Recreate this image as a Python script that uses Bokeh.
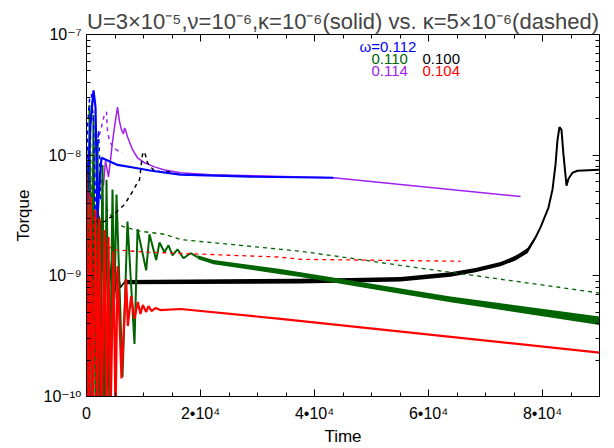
from bokeh.plotting import figure
from bokeh.models import (Range1d, FixedTicker, CustomJSTickFormatter, LinearAxis,
                          LogAxis, Label)
from bokeh.embed import file_html
from bokeh.resources import INLINE

FONT = "Liberation Sans"
TICK_FONT = "'Liberation Sans', 'DejaVu Sans'"
BOTTOM = 6e-11  # excursions below the axis floor

# ---- axis ticks ----
x_ticks = [0, 20000, 40000, 60000, 80000]
x_minor = [5000, 10000, 15000, 25000, 30000, 35000, 45000, 50000, 55000,
           65000, 70000, 75000, 85000]
y_ticks = [1e-10, 1e-9, 1e-8, 1e-7]
y_minor = [m * d for d in (1e-10, 1e-9, 1e-8) for m in range(2, 10)]

# ---- omega = 0.104 (red) ----
red_s_t = [0, 350, 700, 1050, 1580, 1930, 2280, 2630, 3160, 3510, 3860, 4210, 4740, 5090,
           5440, 6140, 6960, 7250, 7840, 8420, 9000, 9470, 9880, 10470, 10880, 11400,
           12100, 12980, 16490, 34040, 90000]
red_s_T = [7.0e-9, BOTTOM, 4.5e-9, BOTTOM, 3.5e-9, BOTTOM, 3.0e-9, BOTTOM, 2.4e-9, BOTTOM,
           2.1e-9, BOTTOM, 1.6e-9, BOTTOM, 1.2e-9, 1.41e-10, 9.4e-10, 3.85e-10, 6.8e-10,
           4.4e-10, 6.07e-10, 4.83e-10, 5.73e-10, 5.02e-10, 5.62e-10, 5.11e-10, 5.41e-10,
           5.2e-10, 5.31e-10, 4.4e-10, 2.31e-10]
red_d_t = [0, 200, 500, 900, 1300, 1700, 2100, 2600, 3100, 3680, 4210, 5090, 10700,
           34040, 37540, 65610]
red_d_T = [3e-9, BOTTOM, 5e-9, BOTTOM, 3.5e-9, BOTTOM, 2.5e-9, BOTTOM, 2e-9, 1.66e-9,
           1.72e-9, 1.64e-9, 1.57e-9, 1.43e-9, 1.37e-9, 1.32e-9]

# ---- omega = 0.110 (green) ----
green_s_t = [0, 350, 530, 880, 1230, 1580, 1930, 2280, 2810, 3160, 3510, 4040, 4560, 4910,
             5260, 6320, 7190, 8420, 8950, 10470, 11050, 12230, 12810, 13680, 14390,
             15090, 15960, 17020, 18250, 19470]
green_s_T = [1.11e-8, BOTTOM, 2.6e-8, BOTTOM, 2.15e-8, BOTTOM, 1.34e-8, BOTTOM, 8.3e-9,
             BOTTOM, 6.26e-9, BOTTOM, 5.18e-9, 6.42e-10, 4.71e-9, 1.45e-10, 2.82e-9,
             2.73e-10, 2.43e-9, 1.11e-9, 2.21e-9, 1.35e-9, 1.89e-9, 1.57e-9, 1.79e-9,
             1.48e-9, 1.66e-9, 1.40e-9, 1.54e-9, 1.43e-9]
green_band_t = [19470, 22280, 34040, 37540, 63860, 90000]
green_band_hi = [1.48e-9, 1.35e-9, 1.14e-9, 1.07e-9, 6.75e-10, 4.6e-10]
green_band_lo = [1.38e-9, 1.25e-9, 1.03e-9, 9.8e-10, 6.05e-10, 3.92e-10]
green_d_t = [0, 350, 700, 1050, 1400, 1750, 2100, 2460, 4210, 5960, 9470, 13680, 16490,
             34040, 37540, 46320, 55090, 63860, 72630, 81400, 90000]
green_d_T = [3e-9, BOTTOM, 2.2e-8, BOTTOM, 1.2e-8, BOTTOM, 6e-9, 4.3e-9, 3.2e-9, 2.6e-9,
             2.34e-9, 2.21e-9, 2.0e-9, 1.66e-9, 1.6e-9, 1.40e-9, 1.22e-9, 1.07e-9,
             9.38e-10, 8.22e-10, 7.2e-10]

# ---- omega = 0.100 (black) ----
black_s_t = [0, 350, 700, 1050, 1400, 1750, 2100, 2460, 2810, 3160, 3510, 3860, 4390,
             4910, 5440, 5960, 6670]
black_s_T = [4e-9, BOTTOM, 5e-9, BOTTOM, 3.5e-9, BOTTOM, 3.2e-9, 2.7e-9, BOTTOM, 1.45e-9,
             2.4e-9, 6.8e-10, 1.3e-9, 7e-10, 1.1e-9, 8e-10, 8.9e-10]
black_band_t = [6670, 37540, 46320, 55090, 63860, 68250, 72630, 75260, 77370, 78770]
black_band_hi = [9.25e-10, 9.45e-10, 9.6e-10, 9.8e-10, 1.07e-9, 1.16e-9, 1.30e-9,
                 1.46e-9, 1.70e-9, 2.14e-9]
black_band_lo = [8.5e-10, 8.65e-10, 8.8e-10, 8.97e-10, 9.85e-10, 1.07e-9, 1.20e-9,
                 1.34e-9, 1.54e-9, 2.02e-9]
black_end_t = [72630, 77370, 78770, 79650, 81050, 81750, 82280, 82630, 82980, 83330,
               83680, 84210, 84560, 85260, 86140, 90000]
black_end_T = [1.25e-9, 1.61e-9, 2.08e-9, 2.52e-9, 3.68e-9, 5.18e-9, 8.3e-9, 1.34e-8,
               1.71e-8, 1.62e-8, 1.01e-8, 5.59e-9, 6.38e-9, 7.15e-9, 7.43e-9, 7.57e-9]
black_d_t = [0, 350, 700, 1050, 1400, 1930, 3160, 4390, 6670, 8070, 8950, 9300, 9820,
             10180, 10700, 11400, 11930, 12980, 15090]
black_d_T = [2e-9, BOTTOM, 3e-9, BOTTOM, 3.22e-9, 2.77e-9, 2.82e-9, 3.1e-9, 3.9e-9,
             4.99e-9, 5.92e-9, 6.26e-9, 1.01e-8, 1.07e-8, 8.65e-9, 7.87e-9, 7.43e-9,
             7.29e-9, 7.29e-9]

# ---- omega = 0.112 (blue) ----
blue_s_t = [0, 350, 700, 1230, 1580, 1750, 1930, 2280, 2630, 5440, 8420, 11400, 16490,
            28770, 43330]
blue_s_T = [3e-9, 8e-9, 1.8e-8, 3.45e-8, 2.5e-8, 9e-9, 3e-9, 6e-9, 9.5e-9, 8.3e-9,
            7.87e-9, 7.43e-9, 6.89e-9, 6.63e-9, 6.5e-9]
blue_d_t = [0, 175, 530, 880, 1230, 1400, 1580, 1750, 2100, 2280, 2460]
blue_d_T = [1.5e-9, 1.71e-8, 2.9e-8, 3.2e-8, 1.9e-8, 6e-9, 2e-9, 8e-9, 1.6e-8, 1e-8, 4e-9]

# ---- omega = 0.114 (purple) ----
purple_s_t = [0, 700, 1750, 2460, 2980, 3330, 3860, 4210, 4560, 4910, 5440, 5790, 6140,
              6490, 6670, 6840, 7190, 8070, 8950, 10180, 11930, 13510, 16490, 21750,
              43330, 76140]
purple_s_T = [2e-9, BOTTOM, 3e-9, 6.3e-9, 5.6e-9, 9e-9, 6.6e-9, 9.15e-9, 1.29e-8, 1.71e-8,
              2.5e-8, 1.9e-8, 1.62e-8, 1.5e-8, 1.68e-8, 1.62e-8, 1.42e-8, 1.11e-8,
              9.5e-9, 8.65e-9, 8.0e-9, 7.57e-9, 7.15e-9, 6.89e-9, 6.5e-9, 4.54e-9]
purple_d_t = [0, 175, 350, 530, 880, 1230, 1930, 2630, 3160, 3510, 3680, 4040, 4740,
              5610, 6320]
purple_d_T = [1.4e-9, BOTTOM, 1.2e-9, BOTTOM, 5e-9, 1.0e-8, 1.3e-8, 1.71e-8, 2.2e-8,
              2.28e-8, 1.6e-8, 1.3e-8, 1.15e-8, 1.08e-8, 1.05e-8]

RED, GREEN, BLACK, BLUE, PURPLE = "#ff0000", "#006400", "#000000", "#0000ff", "#a020f0"
DASH = "4 4"

p = figure(width=614, height=448, x_range=Range1d(0, 90000), y_range=Range1d(1e-10, 1e-7),
           y_axis_type="log", output_backend="svg", toolbar_location=None,
           min_border_left=86, min_border_right=15, min_border_top=34, min_border_bottom=50,
           background_fill_color="white", border_fill_color="white")
p.outline_line_color = None
p.xgrid.visible = False
p.ygrid.visible = False

p.title.text = "U=3×10⁻⁵,ν=10⁻⁶,κ=10⁻⁶(solid) vs. κ=5×10⁻⁶(dashed)"
p.title.align = "center"
p.title.text_font = FONT
p.title.text_font_size = "22px"
p.title.text_font_style = "normal"
p.title.standoff = 2

xfmt = CustomJSTickFormatter(code="""
if (tick == 0) { return '0'; }
return (tick / 1e4).toFixed(0) + '\u2022' + '10\u2074';
""")
yfmt = CustomJSTickFormatter(code="""
const e = Math.round(Math.log10(tick));
const m = {'-':'\u207b','0':'\u2070','1':'\u00b9','2':'\u00b2','3':'\u00b3','4':'\u2074',
           '5':'\u2075','6':'\u2076','7':'\u2077','8':'\u2078','9':'\u2079'};
return '10' + String(e).split('').map(c => m[c]).join('');
""")
blank = CustomJSTickFormatter(code="return '';")


def style_axis(ax, labels=True):
    ax.major_tick_in = 7
    ax.major_tick_out = 0
    ax.minor_tick_in = 4
    ax.minor_tick_out = 0
    ax.axis_line_color = "black"
    ax.major_tick_line_color = "black"
    ax.minor_tick_line_color = "black"
    if labels:
        ax.major_label_text_font = TICK_FONT
        ax.major_label_text_font_size = "16px"
        ax.major_label_text_color = "black"
        ax.major_label_standoff = 8
        ax.axis_label_text_font = FONT
        ax.axis_label_text_font_size = "17px"
        ax.axis_label_text_font_style = "normal"
        ax.axis_label_text_color = "black"
        ax.axis_label_standoff = 2
    else:
        ax.major_label_text_font_size = "0px"
        ax.major_label_standoff = 0


xa = p.xaxis[0]
xa.ticker = FixedTicker(ticks=x_ticks, minor_ticks=x_minor)
xa.formatter = xfmt
xa.axis_label = "Time"
style_axis(xa)

ya = p.yaxis[0]
ya.ticker = FixedTicker(ticks=y_ticks, minor_ticks=y_minor)
ya.formatter = yfmt
ya.axis_label = "Torque"
style_axis(ya)
ya.major_label_standoff = 5
ya.axis_label_standoff = 8

top = LinearAxis(ticker=FixedTicker(ticks=x_ticks, minor_ticks=x_minor), formatter=blank)
style_axis(top, labels=False)
p.add_layout(top, "above")
right = LogAxis(ticker=FixedTicker(ticks=y_ticks, minor_ticks=y_minor), formatter=blank)
style_axis(right, labels=False)
p.add_layout(right, "right")

# ---- curves ----
p.line(purple_d_t, purple_d_T, color=PURPLE, line_width=1.5, line_dash=DASH)
p.line(purple_s_t, purple_s_T, color=PURPLE, line_width=1.5)
p.line(black_s_t, black_s_T, color=BLACK, line_width=1.5)
p.varea(x=black_band_t, y1=black_band_lo, y2=black_band_hi, fill_color=BLACK)
p.line(black_end_t, black_end_T, color=BLACK, line_width=2)
p.line(green_d_t, green_d_T, color=GREEN, line_width=1.3, line_dash=DASH)
p.line(green_s_t, green_s_T, color=GREEN, line_width=2)
p.varea(x=green_band_t, y1=green_band_lo, y2=green_band_hi, fill_color=GREEN)
p.line(black_d_t, black_d_T, color=BLACK, line_width=1.5, line_dash=DASH)
p.line(red_d_t, red_d_T, color=RED, line_width=1.3, line_dash=DASH)
p.line(blue_s_t, blue_s_T, color=BLUE, line_width=2.2)
p.line(blue_d_t, blue_d_T, color=BLUE, line_width=1.5, line_dash=DASH)
p.line(red_s_t, red_s_T, color=RED, line_width=2.2)

# ---- omega annotations ----
for txt, col, xx, yy in [("ω=0.112", BLUE, 47900, 7.96e-8),
                         ("0.110", GREEN, 50000, 6.22e-8),
                         ("0.100", BLACK, 58950, 6.22e-8),
                         ("0.114", PURPLE, 50000, 4.95e-8),
                         ("0.104", RED, 58950, 4.95e-8)]:
    p.add_layout(Label(x=xx, y=yy, text=txt, text_color=col, text_font=FONT,
                       text_font_size="15px", text_baseline="middle"))

open("out.html", "w").write(file_html(p, INLINE))
